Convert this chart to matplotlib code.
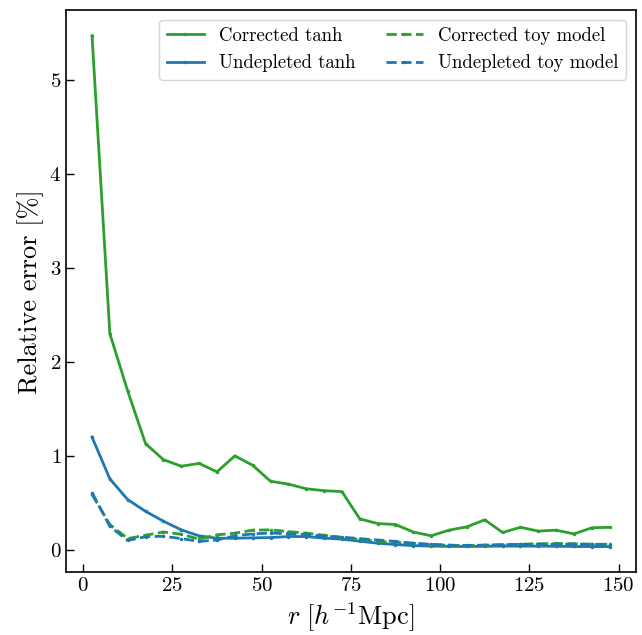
import matplotlib
matplotlib.use("Agg")
import matplotlib.pyplot as plt
import numpy as np

plt.rcParams["font.family"] = "serif"
plt.rcParams["font.serif"] = ["cmr10", "DejaVu Serif"]
plt.rcParams["mathtext.fontset"] = "cm"
plt.rcParams["axes.formatter.use_mathtext"] = True
plt.rcParams["axes.unicode_minus"] = False

r = np.arange(2.5, 150, 5.0)

corrected_tanh = [5.47, 2.30, 1.69, 1.13, 0.96, 0.89, 0.92, 0.83, 1.00, 0.90,
                  0.73, 0.70, 0.65, 0.63, 0.62, 0.33, 0.28, 0.27, 0.19, 0.15,
                  0.21, 0.245, 0.32, 0.185, 0.24, 0.20, 0.21, 0.17, 0.235, 0.24]
undepleted_tanh = [1.20, 0.755, 0.535, 0.41, 0.305, 0.213, 0.149, 0.124, 0.124, 0.128,
                   0.131, 0.142, 0.142, 0.125, 0.114, 0.092, 0.071, 0.057, 0.045, 0.04,
                   0.037, 0.036, 0.038, 0.04, 0.04, 0.04, 0.038, 0.036, 0.035, 0.035]
corrected_toy = [0.59, 0.27, 0.12, 0.156, 0.19, 0.167, 0.114, 0.16, 0.178, 0.21,
                 0.213, 0.195, 0.178, 0.156, 0.131, 0.11, 0.09, 0.08, 0.07, 0.055,
                 0.047, 0.045, 0.05, 0.055, 0.06, 0.065, 0.068, 0.065, 0.06, 0.06]
undepleted_toy = [0.61, 0.25, 0.10, 0.14, 0.145, 0.12, 0.09, 0.105, 0.15, 0.17,
                  0.18, 0.17, 0.165, 0.145, 0.135, 0.12, 0.105, 0.09, 0.07, 0.06,
                  0.05, 0.047, 0.05, 0.055, 0.058, 0.06, 0.06, 0.062, 0.058, 0.055]

green = "#2ca02c"
blue = "#1f77b4"

fig, ax = plt.subplots(figsize=(6.42, 6.35), dpi=100)
fig.subplots_adjust(left=0.103, right=0.99, top=0.984, bottom=0.099)

ax.plot(r, corrected_tanh, "-", marker=".", ms=3, lw=2, color=green, label="Corrected tanh")
ax.plot(r, undepleted_tanh, "-", marker=".", ms=3, lw=2, color=blue, label="Undepleted tanh")
ax.plot(r, corrected_toy, "--", marker=".", ms=3, lw=2, color=green, label="Corrected toy model")
ax.plot(r, undepleted_toy, "--", marker=".", ms=3, lw=2, color=blue, label="Undepleted toy model")

ax.set_xlabel(r"$r\ [h^{-1}\mathrm{Mpc}]$", fontsize=19)
ax.set_ylabel("Relative error [%]", fontsize=19)
ax.tick_params(direction="in", labelsize=15, length=6, width=1)
ax.set_xticks([0, 25, 50, 75, 100, 125, 150])
for s in ax.spines.values():
    s.set_linewidth(1.2)

ax.legend(ncol=2, fontsize=13.5, loc="upper right", handlelength=2.0,
          columnspacing=1.6)

fig.savefig("out.png", dpi=100)
